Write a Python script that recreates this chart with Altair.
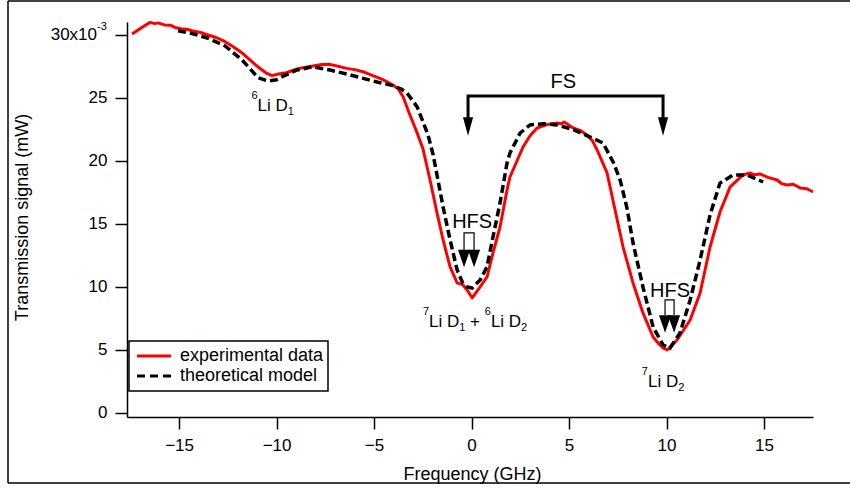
import altair as alt
import pandas as pd

# ---------------- data ----------------
exp_freq = [-17.41, -16.95, -16.49, -16.25, -16.08, -15.75, -15.45, -15.21, -14.9, -14.6,
            -14.33, -13.9, -13.51, -13.1, -12.64, -12.2, -11.77, -11.35, -10.95, -10.55,
            -10.23, -9.92, -9.5, -8.95, -8.5, -8.13, -7.7, -7.26, -6.8, -6.4,
            -6.0, -5.56, -5.1, -4.6, -4.03, -3.75, -3.51, -3.2, -2.82, -2.49,
            -2.13, -1.77, -1.46, -1.10, -0.74, -0.44, -0.2, 0.03, 0.44, 0.79,
            1.10, 1.46, 1.82, 1.97, 2.64, 3.0, 3.36, 3.9, 4.38, 4.6,
            4.75, 5.21, 5.6, 5.92, 6.2, 6.44, 6.95, 7.36, 7.77, 8.28,
            8.79, 9.31, 9.6, 9.82, 10.03, 10.54, 11.21, 11.72, 12.23, 12.74,
            13.26, 13.92, 14.28, 14.5, 14.79, 15.2, 15.67, 15.9, 16.18, 16.5,
            16.85, 17.2, 17.51]
exp_signal = [30.08, 30.56, 31.0, 30.9, 30.96, 30.8, 30.78, 30.6, 30.5, 30.45,
              30.34, 30.2, 30.0, 29.8, 29.47, 29.05, 28.57, 28.0, 27.46, 27.0,
              26.77, 26.9, 27.0, 27.3, 27.45, 27.54, 27.65, 27.67, 27.5, 27.35,
              27.25, 27.08, 26.8, 26.5, 26.03, 25.7, 25.1, 23.81, 22.35, 20.95,
              18.49, 15.87, 13.73, 11.59, 10.32, 10.16, 9.7, 9.13, 10.0, 10.79,
              12.7, 14.76, 17.7, 18.73, 21.11, 22.0, 22.62, 22.9, 23.02, 22.95,
              23.1, 22.62, 22.4, 22.06, 21.6, 20.87, 19.05, 16.11, 13.17, 10.32,
              7.94, 6.03, 5.5, 5.16, 5.0, 5.79, 7.38, 9.52, 13.17, 15.95,
              17.94, 18.89, 19.05, 18.9, 18.97, 18.7, 18.49, 18.2, 18.1, 18.15,
              17.86, 17.8, 17.54]

th_freq = [-15.05, -14.3, -13.51, -12.64, -11.77, -10.95, -10.44, -10.0, -9.72, -8.95,
           -8.13, -7.26, -6.4, -5.56, -4.8, -4.03, -3.6, -3.31, -2.79, -2.49,
           -2.23, -1.97, -1.46, -1.10, -0.74, -0.45, -0.23, 0.03, 0.44, 0.79,
           1.10, 1.46, 1.82, 1.97, 2.49, 3.0, 3.7, 4.38, 5.2, 6.08,
           6.74, 7.26, 7.62, 7.97, 8.28, 8.79, 9.31, 9.82, 10.18, 10.69,
           11.21, 11.72, 12.23, 12.74, 13.41, 14.13, 14.95]
th_signal = [30.34, 30.1, 29.74, 29.13, 28.02, 26.61, 26.35, 26.45, 26.69, 27.22,
             27.48, 27.22, 26.9, 26.56, 26.25, 25.98, 25.7, 25.4, 24.29, 23.1,
             22.06, 20.48, 16.35, 13.73, 11.35, 10.3, 10.0, 9.92, 10.56, 11.59,
             13.97, 16.67, 19.84, 20.63, 22.22, 22.86, 22.95, 22.86, 22.5, 21.9,
             21.43, 19.92, 18.49, 16.27, 13.49, 10.0, 6.83, 5.4, 5.16, 6.35,
             8.97, 12.14, 15.71, 18.25, 18.89, 18.89, 18.33]

x_ticks = [-15, -10, -5, 0, 5, 10, 15]
y_ticks = [0, 5, 10, 15, 20, 25, 30]
top_tick_label = "30x10"
top_tick_exponent = "-3"
series_names = ["experimental data", "theoretical model"]

# peak annotations: pieces of (text, kind) with kind main / sup / sub / gap
peak_pieces = [
    [("6", "sup"), ("Li D", "main"), ("1", "sub")],
    [("7", "sup"), ("Li D", "main"), ("1", "sub"), (" ", "gap"), ("+", "main"), (" ", "gap"),
     ("6", "sup"), ("Li D", "main"), ("2", "sub")],
    [("7", "sup"), ("Li D", "main"), ("2", "sub")],
]
peak_label_x = [-10.2, 0.18, 9.82]
peak_label_y = [23.97, 6.83, 2.06]

split_labels = ["FS", "HFS", "HFS"]
split_label_x = [4.7, 0.03, 10.18]
split_label_y = [25.79, 14.68, 9.21]

# FS bracket: two arrows at these frequencies
fs_arrow_x = [-0.18, 9.82]
fs_bar_y = 25.16
fs_arrow_y = 22.74
# HFS brackets: pairs of arrows
hfs_arrow_x = [[-0.385, 0.128], [9.923, 10.385]]
hfs_bar_y = [14.29, 8.97]
hfs_base_y = [12.94, 7.78]
hfs_arrow_y = [12.26, 7.06]

# ---------------- chart ----------------
FONT = "Liberation Sans"
W, H = 686, 395
xs = alt.Scale(domain=[-17.67, 17.51], nice=False, zero=False)
ys = alt.Scale(domain=[-0.32, 31.03], nice=False, zero=False)

exp_df = pd.DataFrame({"f": exp_freq, "s": exp_signal, "i": range(len(exp_freq))})
th_df = pd.DataFrame({"f": th_freq, "s": th_signal, "i": range(len(th_freq))})

xaxis = alt.Axis(values=x_ticks, title="Frequency (GHz)", grid=False,
                 tickSize=12, tickWidth=1.5, tickColor="black",
                 domainColor="black", domainWidth=1.5,
                 labelFont=FONT, labelFontSize=17, labelColor="black", labelPadding=8,
                 titleFont=FONT, titleFontSize=18, titleFontWeight="normal", titleColor="black",
                 titleX=345, titleY=62, titleBaseline="alphabetic", titleAlign="center")
yaxis = alt.Axis(values=y_ticks, title="Transmission signal (mW)", grid=False,
                 tickSize=12, tickWidth=1.5, tickColor="black",
                 domainColor="black", domainWidth=1.5,
                 labelFont=FONT, labelFontSize=17, labelColor="black", labelPadding=8,
                 labelExpr="datum.value == 30 ? '' : datum.label",
                 titleFont=FONT, titleFontSize=18, titleFontWeight="normal", titleColor="black",
                 titleX=-100, titleY=195, titleBaseline="alphabetic", titleAlign="center",
                 titleAngle=270)

one = pd.DataFrame({"k": [0]})

# top tick label with its exponent
top_df = pd.DataFrame({"s": [y_ticks[-1]]})
top_label = alt.Chart(top_df).mark_text(font=FONT, fontSize=17, color="black", align="right",
                                        baseline="middle", text=top_tick_label).encode(
    x=alt.value(97 - 127), y=alt.Y("s:Q", scale=ys))
exp_label = alt.Chart(top_df).mark_text(font=FONT, fontSize=11, color="black", align="left",
                                        baseline="alphabetic", text=top_tick_exponent,
                                        dy=-5).encode(
    x=alt.value(97 - 127), y=alt.Y("s:Q", scale=ys))

# outer frame: left, top and bottom edges
frame_left = alt.Chart(one).mark_rule(color="black", strokeWidth=1.5).encode(
    x=alt.value(8 - 127), y=alt.value(1 - 22), y2=alt.value(483 - 22))
frame_top = alt.Chart(one).mark_rule(color="black", strokeWidth=1.5).encode(
    x=alt.value(8 - 127), x2=alt.value(850 - 127), y=alt.value(1 - 22))
frame_bottom = alt.Chart(one).mark_rule(color="black", strokeWidth=1.5).encode(
    x=alt.value(8 - 127), x2=alt.value(850 - 127), y=alt.value(483 - 22))

red = alt.Chart(exp_df).mark_line(color="#ff0000", strokeWidth=3, strokeJoin="round").encode(
    x=alt.X("f:Q", scale=xs, axis=xaxis),
    y=alt.Y("s:Q", scale=ys, axis=yaxis),
    order="i:Q")

black = alt.Chart(th_df).mark_line(color="black", strokeWidth=3.5, strokeDash=[8, 4]).encode(
    x=alt.X("f:Q", scale=xs), y=alt.Y("s:Q", scale=ys), order="i:Q")

# FS bracket
fs_df = pd.DataFrame({
    "f": [fs_arrow_x[0], fs_arrow_x[0], fs_arrow_x[1], fs_arrow_x[1]],
    "s": [fs_arrow_y, fs_bar_y, fs_bar_y, fs_arrow_y],
    "i": [0, 1, 2, 3]})
fs_line = alt.Chart(fs_df).mark_line(color="black", strokeWidth=3, strokeJoin="miter").encode(
    x=alt.X("f:Q", scale=xs), y=alt.Y("s:Q", scale=ys), order="i:Q")

rows = []
for g, (pair, top, base) in enumerate(zip(hfs_arrow_x, hfs_bar_y, hfs_base_y)):
    rows += [{"g": g, "i": 0, "f": pair[0], "s": base},
             {"g": g, "i": 1, "f": pair[0], "s": top},
             {"g": g, "i": 2, "f": pair[1], "s": top},
             {"g": g, "i": 3, "f": pair[1], "s": base}]
hfs_df = pd.DataFrame(rows)
hfs_line = alt.Chart(hfs_df).mark_line(color="black", strokeWidth=1.2).encode(
    x=alt.X("f:Q", scale=xs), y=alt.Y("s:Q", scale=ys), order="i:Q", detail="g:N")

fs_tri_df = pd.DataFrame({"f": fs_arrow_x, "s": [fs_arrow_y] * 2})
fs_tri = alt.Chart(fs_tri_df).mark_point(
    shape="M-0.55,-1L0.55,-1L0,1Z", filled=True, fill="black", fillOpacity=1,
    strokeWidth=0, size=340).encode(x=alt.X("f:Q", scale=xs), y=alt.Y("s:Q", scale=ys))

hfs_tri_df = pd.DataFrame({
    "f": [v for pair in hfs_arrow_x for v in pair],
    "s": [hfs_arrow_y[0]] * 2 + [hfs_arrow_y[1]] * 2})
hfs_tri = alt.Chart(hfs_tri_df).mark_point(
    shape="M-0.7,-1L0.7,-1L0,1Z", filled=True, fill="black", fillOpacity=1,
    strokeWidth=0, size=300).encode(x=alt.X("f:Q", scale=xs), y=alt.Y("s:Q", scale=ys))

# peak labels built from pieces (superscript / subscript digits as smaller text)
EM = {"L": 0.556, "i": 0.222, " ": 0.278, "D": 0.722, "+": 0.584}
STYLE = {"main": (17, 0), "sup": (11, -12), "sub": (11, 4), "gap": (17, 0)}


def text_width(t, size):
    return sum(EM.get(c, 0.556) for c in t) * size


peak_layers = []
for pieces, fx, sy in zip(peak_pieces, peak_label_x, peak_label_y):
    total = sum(text_width(t, STYLE[k][0]) for t, k in pieces)
    offset = -total / 2
    for t, k in pieces:
        size, dy = STYLE[k]
        if k != "gap":
            df = pd.DataFrame({"f": [fx], "s": [sy]})
            peak_layers.append(
                alt.Chart(df).mark_text(font=FONT, fontSize=size, color="black", align="left",
                                        baseline="alphabetic", text=t, dx=offset,
                                        dy=dy).encode(
                    x=alt.X("f:Q", scale=xs), y=alt.Y("s:Q", scale=ys)))
        offset += text_width(t, size)

split_df = pd.DataFrame({"f": split_label_x, "s": split_label_y, "t": split_labels})
split_txt = alt.Chart(split_df).mark_text(font=FONT, fontSize=20, color="black",
                                          align="center", baseline="alphabetic").encode(
    x=alt.X("f:Q", scale=xs), y=alt.Y("s:Q", scale=ys), text="t:N")

# legend (drawn inside the plot, bottom-left)
leg_box = alt.Chart(one).mark_rect(fill="white", stroke="black", strokeWidth=1.5).encode(
    x=alt.value(2), x2=alt.value(201), y=alt.value(319), y2=alt.value(369))
leg_red = alt.Chart(one).mark_rule(color="#ff0000", strokeWidth=3).encode(
    x=alt.value(10), x2=alt.value(44), y=alt.value(334))
leg_black = alt.Chart(one).mark_rule(color="black", strokeWidth=3, strokeDash=[8, 5]).encode(
    x=alt.value(10), x2=alt.value(44), y=alt.value(354))
leg_txt = [
    alt.Chart(one).mark_text(font=FONT, fontSize=18, color="black", align="left",
                             baseline="middle", text=name).encode(
        x=alt.value(53), y=alt.value(334 + 20 * k))
    for k, name in enumerate(series_names)
]

chart = alt.layer(frame_left, frame_top, frame_bottom, red, black, fs_line, hfs_line,
                  fs_tri, hfs_tri, *peak_layers, split_txt, top_label, exp_label,
                  leg_box, leg_red, leg_black, *leg_txt).properties(
    width=W, height=H,
    autosize=alt.AutoSizeParams(type="none"),
    padding={"left": 127, "top": 22, "right": 850 - 127 - W, "bottom": 488 - 22 - H},
    background="white",
).configure_view(stroke=None)

chart.save("out.html", embed_options={"renderer": "svg", "actions": False})
